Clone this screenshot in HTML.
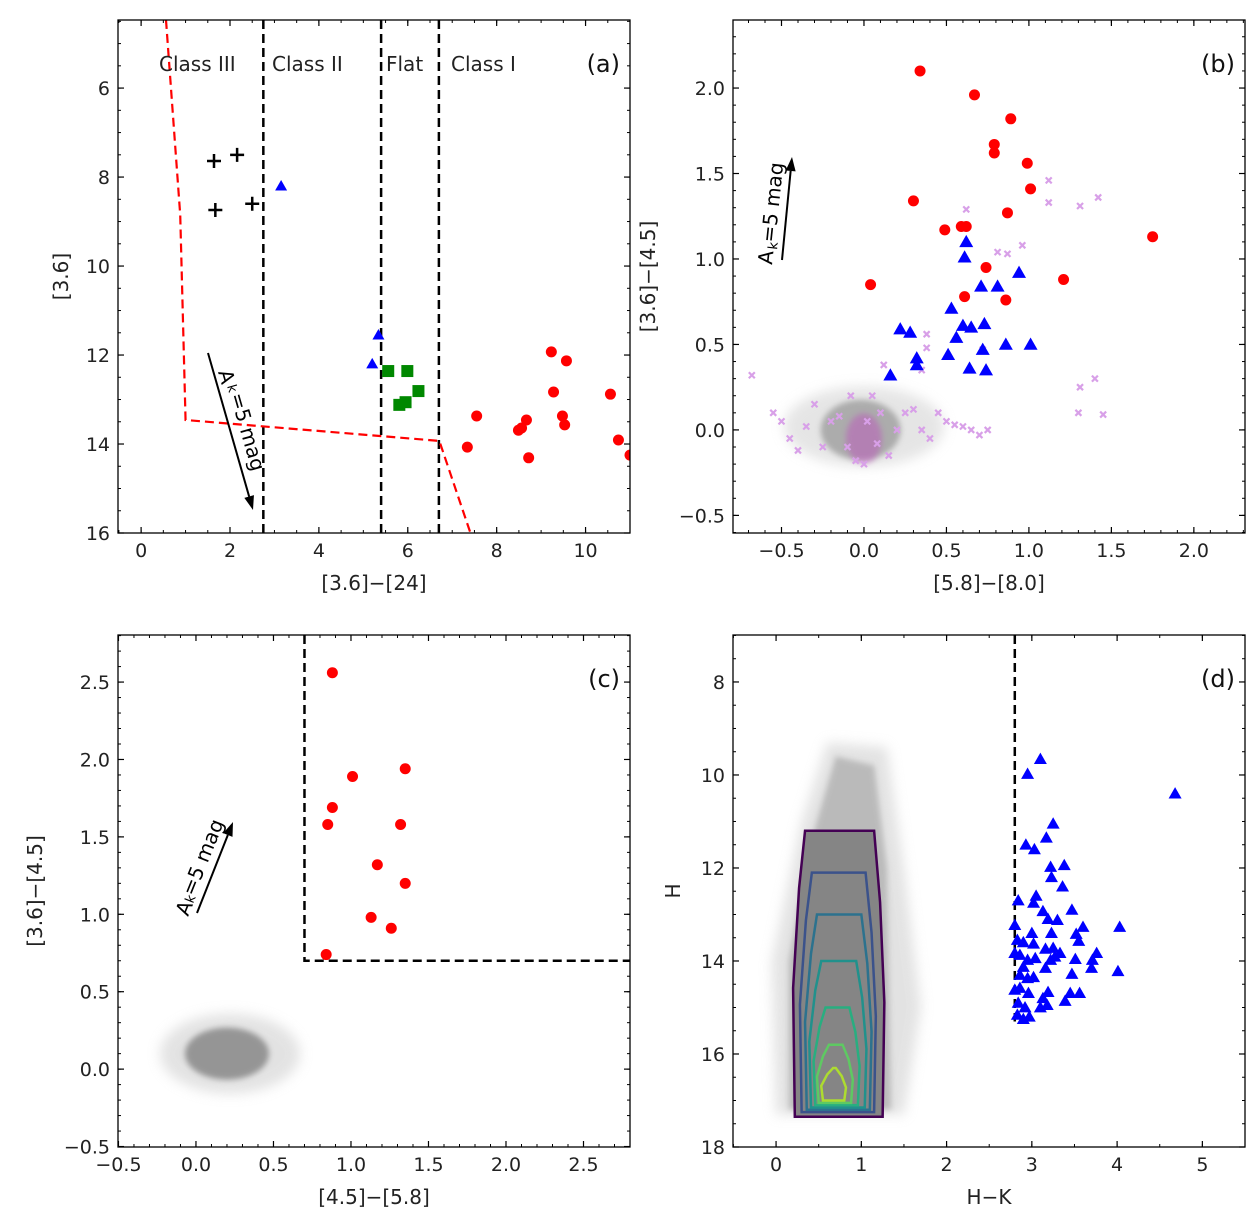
<!DOCTYPE html>
<html><head><meta charset="utf-8"><style>
html,body{margin:0;padding:0;background:#fff;}
svg{display:block;font-family:"DejaVu Sans","Liberation Sans",sans-serif;}
</style></head><body>
<svg id="fig" width="1258" height="1225" viewBox="0 0 1258 1225" xmlns="http://www.w3.org/2000/svg">
<defs>
<filter id="blur6" x="-50%" y="-50%" width="200%" height="200%"><feGaussianBlur stdDeviation="6"/></filter>
<filter id="blur10" x="-50%" y="-50%" width="200%" height="200%"><feGaussianBlur stdDeviation="10"/></filter>
<filter id="blur3" x="-50%" y="-50%" width="200%" height="200%"><feGaussianBlur stdDeviation="3"/></filter>
</defs>
</svg>
<script>
// ---------- data: panel (a) ----------
const aClassIIIx=[1.64,2.16,1.67,2.5];
const aClassIIIy=[7.64,7.5,8.74,8.6];
const aClassIIx=[3.15,5.34,5.2];
const aClassIIy=[8.2,11.55,12.2];
const aFlatX=[5.56,5.99,6.24,5.95,5.81];
const aFlatY=[12.36,12.36,12.81,13.06,13.12];
const aClassIx=[9.23,9.57,9.28,7.55,9.48,8.67,9.53,8.49,8.56,10.56,7.34,8.72,10.74,11.0];
const aClassIy=[11.93,12.13,12.83,13.37,13.37,13.46,13.57,13.69,13.64,12.88,14.07,14.31,13.91,14.25];
const aBoundX=[0.56,0.88,1.0,6.71,7.41];
const aBoundY=[4.47,8.85,13.46,13.93,16.0];
const aClassLines=[2.75,5.4,6.7];
const aXTicks=[0,2,4,6,8,10];
const aYTicks=[6,8,10,12,14,16];
// ---------- data: panel (b) ----------
const bRedX=[0.34,0.67,0.89,0.79,0.79,0.99,1.01,0.30,0.87,0.49,0.59,0.62,0.74,1.75,1.21,0.04,0.61,0.86];
const bRedY=[2.10,1.96,1.82,1.67,1.62,1.56,1.41,1.34,1.27,1.17,1.19,1.19,0.95,1.13,0.88,0.85,0.78,0.76];
const bBlueX=[0.62,0.61,0.94,0.71,0.81,0.53,0.22,0.28,0.60,0.65,0.73,0.56,0.86,1.01,0.72,0.32,0.32,0.51,0.64,0.74,0.16];
const bBlueY=[1.10,1.01,0.92,0.84,0.84,0.71,0.59,0.57,0.61,0.60,0.62,0.54,0.50,0.50,0.47,0.42,0.38,0.44,0.36,0.35,0.32];
const bPinkX=[1.12,1.12,1.31,1.42,0.62,0.81,0.87,0.96,0.38,0.38,0.72,0.35,1.4,1.31,1.3,-0.68,-0.55,-0.45,-0.3,-0.2,-0.1,0.05,0.15,0.25,0.3,0.4,0.5,0.55,0.6,0.7,0.75,-0.4,-0.35,-0.15,0.0,0.1,0.2,-0.05,0.02,0.08,-0.25,0.45,0.65,1.45,-0.5,0.35,0.12,-0.08];
const bPinkY=[1.46,1.33,1.31,1.36,1.29,1.04,1.03,1.08,0.56,0.48,0.47,0.0,0.3,0.25,0.1,0.32,0.1,-0.05,0.15,0.05,-0.1,0.2,-0.15,0.1,0.12,-0.05,0.05,0.03,0.02,-0.03,0.0,-0.12,0.02,0.08,-0.2,0.1,0.0,-0.18,0.05,-0.08,-0.1,0.1,0.0,0.09,0.05,0.35,0.38,0.2];
const bXTicks=[-0.5,0.0,0.5,1.0,1.5,2.0];
const bYTicks=[-0.5,0.0,0.5,1.0,1.5,2.0];
// ---------- data: panel (c) ----------
const cRedX=[0.88,1.01,1.35,0.88,0.85,1.32,1.17,1.35,1.13,1.26,0.84];
const cRedY=[2.56,1.89,1.94,1.69,1.58,1.58,1.32,1.20,0.98,0.91,0.74];
const cCut=[0.7,0.7];
const cXTicks=[-0.5,0.0,0.5,1.0,1.5,2.0,2.5];
const cYTicks=[-0.5,0.0,0.5,1.0,1.5,2.0,2.5];
// ---------- data: panel (d) ----------
const dBlueX=[3.10,2.95,4.68,3.25,3.17,2.93,3.03,3.22,3.38,3.23,3.36,2.84,3.05,3.02,3.13,3.47,3.19,3.30,3.60,4.03,2.80,3.00,3.23,3.52,3.55,2.83,2.90,3.02,3.16,3.25,3.33,2.80,2.86,3.04,2.95,3.22,3.27,3.51,3.71,3.76,3.16,2.90,3.70,4.01,2.86,3.02,2.95,3.47,2.80,2.86,2.96,3.19,3.13,3.45,3.56,3.39,3.10,3.18,2.84,2.92,2.83,2.90,2.97];
const dBlueY=[9.66,9.98,10.4,11.05,11.35,11.5,11.6,11.98,11.94,12.2,12.4,12.7,12.6,12.75,12.93,12.9,13.1,13.12,13.27,13.27,13.23,13.4,13.4,13.42,13.57,13.55,13.6,13.63,13.74,13.72,13.83,13.83,13.87,13.94,13.98,13.98,13.91,13.96,13.98,13.83,14.15,14.13,14.15,14.22,14.3,14.35,14.37,14.28,14.62,14.58,14.69,14.67,14.8,14.69,14.69,14.86,15.0,14.95,14.9,15.0,15.16,15.25,15.2];
const dCut=[2.8];
const dContourX0=[0.22,0.3,0.36,0.41,0.46,0.5,0.55];
const dContourX1=[1.25,1.15,1.1,1.04,0.96,0.88,0.8];
const dContourTop=[11.2,12.1,13.0,14.0,15.0,15.8,16.3];
const dContourBot=[17.35,17.25,17.2,17.15,17.1,17.05,17.0];
const dXTicks=[0,1,2,3,4,5];
const dYTicks=[8,10,12,14,16,18];

const svg=document.getElementById('fig');
const NS='http://www.w3.org/2000/svg';
function el(tag,attrs,parent){const e=document.createElementNS(NS,tag);for(const k in attrs)e.setAttribute(k,attrs[k]);(parent||svg).appendChild(e);return e;}
function txt(s,attrs,parent){const e=el('text',attrs,parent);e.textContent=s;return e;}
function scale(d0,d1,p0,p1){return v=>p0+(v-d0)*(p1-p0)/(d1-d0);}

function makePanel(name,box,xr,yr,xt,yt,fmt,xlabel,ylabel,letter,ylabX){
  const g=el('g',{});
  
  
  const X=scale(xr[0],xr[1],box.x0,box.x1), Y=scale(yr[0],yr[1],box.y1,box.y0);
  const clipId='clip-'+name;
  const cp=el('clipPath',{id:clipId},g);el('rect',{x:box.x0,y:box.y0,width:box.x1-box.x0,height:box.y1-box.y0},cp);
  const plot=el('g',{'clip-path':'url(#'+clipId+')'},g);
  const ax=el('g',{},g);
  xt.forEach(v=>{const px=X(v);
    el('line',{x1:px,x2:px,y1:box.y1,y2:box.y1-6,stroke:'#000','stroke-width':1.2},ax);
    el('line',{x1:px,x2:px,y1:box.y0,y2:box.y0+6,stroke:'#000','stroke-width':1.2},ax);
    const t=txt(fmt(v),{x:px,y:box.y1+24,'font-size':19,'text-anchor':'middle',fill:'#222'},ax);
    
    });
  yt.forEach(v=>{const py=Y(v);
    el('line',{x1:box.x0,x2:box.x0+6,y1:py,y2:py,stroke:'#000','stroke-width':1.2},ax);
    el('line',{x1:box.x1,x2:box.x1-6,y1:py,y2:py,stroke:'#000','stroke-width':1.2},ax);
    const t=txt(fmt(v),{x:box.x0-8,y:py+7,'font-size':19,'text-anchor':'end',fill:'#222'},ax);
    
    });
  el('rect',{x:box.x0,y:box.y0,width:box.x1-box.x0,height:box.y1-box.y0,fill:'none',stroke:'#000','stroke-width':1.3},ax);
  const xl=txt(xlabel,{x:(box.x0+box.x1)/2,y:box.y1+57,'font-size':20,'text-anchor':'middle',fill:'#222'},ax);
  
  
  const yc=(box.y0+box.y1)/2;
  const yl=txt(ylabel,{x:ylabX,y:yc,'font-size':20,'text-anchor':'middle',fill:'#222',transform:'rotate(-90 '+ylabX+' '+yc+')'},ax);
  
  
  const pl=txt(letter,{x:box.x1-10,y:box.y0+52,'font-size':24,'text-anchor':'end',fill:'#111'},ax);
  
  
  return {X,Y,plot,ax,g};
}
function minorTicks(P,box,xr,yr,xs,ys){
  for(let v=Math.ceil(xr[0]/xs)*xs;v<=xr[1];v+=xs){const px=P.X(v);
    el('line',{x1:px,x2:px,y1:box.y1,y2:box.y1-3,stroke:'#000','stroke-width':1},P.ax);
    el('line',{x1:px,x2:px,y1:box.y0,y2:box.y0+3,stroke:'#000','stroke-width':1},P.ax);}
  for(let v=Math.ceil(Math.min(...yr)/ys)*ys;v<=Math.max(...yr);v+=ys){const py=P.Y(v);
    el('line',{x1:box.x0,x2:box.x0+3,y1:py,y2:py,stroke:'#000','stroke-width':1},P.ax);
    el('line',{x1:box.x1,x2:box.x1-3,y1:py,y2:py,stroke:'#000','stroke-width':1},P.ax);}
}
function circle(P,x,y,name,r){const c=el('circle',{cx:P.X(x),cy:P.Y(y),r:r||5.5,fill:'#f00'},P.plot);
  
  }
function tri(P,x,y,name,s){s=s||7;const px=P.X(x),py=P.Y(y);
  const p=el('polygon',{points:`${px},${py-s} ${px-s},${py+s*0.75} ${px+s},${py+s*0.75}`,fill:'#00f'},P.plot);
  
  }
function arrow(P,x1,y1,x2,y2,label,name){
  const g=el('g',{},P.ax);
  
  
  const ang=Math.atan2(y2-y1,x2-x1);
  const hx=x2-14*Math.cos(ang),hy=y2-14*Math.sin(ang);
  el('line',{x1:x1,y1:y1,x2:hx,y2:hy,stroke:'#000','stroke-width':2},g);
  const nx=-Math.sin(ang)*5,ny=Math.cos(ang)*5;
  el('polygon',{points:`${x2},${y2} ${hx+nx},${hy+ny} ${hx-nx},${hy-ny}`,fill:'#000'},g);
  return g;
}
const f1=v=>String(v), f1d=v=>v.toFixed(1).replace('-','\u2212');

// ===== Panel (a) =====
const boxA={x0:118,x1:630,y0:20,y1:533};
const xrA=[-0.52,11.0], yrA=[16.0,4.47];
const A=makePanel('panel-a',boxA,xrA,yrA,aXTicks,aYTicks,f1,'[3.6]\u2212[24]','[3.6]','(a)',68);
minorTicks(A,boxA,xrA,yrA,0.5,0.5);
aClassLines.forEach(v=>{const l=el('line',{x1:A.X(v),x2:A.X(v),y1:boxA.y0,y2:boxA.y1,stroke:'#000','stroke-width':2.5,'stroke-dasharray':'9,5'},A.plot);
  
  });
{const pts=aBoundX.map((x,i)=>A.X(x)+','+A.Y(aBoundY[i])).join(' ');
 const l=el('polyline',{points:pts,fill:'none',stroke:'#f00','stroke-width':2.2,'stroke-dasharray':'9,5'},A.plot);
 
 }
[['Class III',159],['Class II',272],['Flat',386],['Class I',451]].forEach(([s,x])=>{const t=txt(s,{x:x,y:71,'font-size':20,fill:'#222'},A.ax);
  
  });
aClassIIIx.forEach((x,i)=>{const px=A.X(x),py=A.Y(aClassIIIy[i]);
  const p=el('path',{d:`M${px-7},${py}H${px+7}M${px},${py-7}V${py+7}`,stroke:'#000','stroke-width':2.5},A.plot);
  
  });
aClassIIx.forEach((x,i)=>tri(A,x,aClassIIy[i],'class-ii-point',6));
aFlatX.forEach((x,i)=>{const px=A.X(x),py=A.Y(aFlatY[i]);
  const r=el('rect',{x:px-6,y:py-6,width:12,height:12,fill:'#080'},A.plot);
  
  });
aClassIx.forEach((x,i)=>circle(A,x,aClassIy[i],'class-i-point'));
{const g=arrow(A,208,353,253,510,'','reddening-vector');
 txt('A',{x:0,y:0,'font-size':20,transform:'translate(218,372) rotate(74)'},g);
 txt('k',{x:0,y:0,'font-size':13,transform:'translate(227,386) rotate(74)'},g);
 txt('=5 mag',{x:0,y:0,'font-size':20,transform:'translate(230,395) rotate(74)'},g);}

// ===== Panel (b) =====
const boxB={x0:733,x1:1245,y0:20,y1:533};
const xrB=[-0.794,2.31], yrB=[-0.603,2.398];
const B=makePanel('panel-b',boxB,xrB,yrB,bXTicks,bYTicks,f1d,'[5.8]\u2212[8.0]','[3.6]\u2212[4.5]','(b)',655);
minorTicks(B,boxB,xrB,yrB,0.1,0.1);
{const c=el('g',{},B.plot);
 el('ellipse',{cx:B.X(0.0),cy:B.Y(0.02),rx:80,ry:40,fill:'#ccc',opacity:0.5,filter:'url(#blur6)'},c);
 el('ellipse',{cx:B.X(-0.02),cy:B.Y(0.0),rx:40,ry:30,fill:'#999',opacity:0.75,filter:'url(#blur3)'},c);
 el('ellipse',{cx:B.X(0.0),cy:B.Y(-0.05),rx:18,ry:25,fill:'#b5b',opacity:0.5,filter:'url(#blur3)'},c);}
bPinkX.forEach((x,i)=>{const px=B.X(x),py=B.Y(bPinkY[i]);
  const p=el('path',{d:`M${px-3},${py-3}L${px+3},${py+3}M${px-3},${py+3}L${px+3},${py-3}`,stroke:'#d8a0e8','stroke-width':2.2},B.plot);
  
  });
bBlueX.forEach((x,i)=>tri(B,x,bBlueY[i],'class-ii-point'));
bRedX.forEach((x,i)=>circle(B,x,bRedY[i],'class-i-point'));
{const g=arrow(B,782,260,792,157,'','reddening-vector');
 txt('A',{x:0,y:0,'font-size':20,transform:'translate(772,265) rotate(-84)'},g);
 txt('k',{x:0,y:0,'font-size':13,transform:'translate(777,250) rotate(-84)'},g);
 txt('=5 mag',{x:0,y:0,'font-size':20,transform:'translate(775,243) rotate(-84)'},g);}

// ===== Panel (c) =====
const boxC={x0:118,x1:630,y0:635,y1:1147};
const xrC=[-0.503,2.8], yrC=[-0.503,2.804];
const C=makePanel('panel-c',boxC,xrC,yrC,cXTicks,cYTicks,f1d,'[4.5]\u2212[5.8]','[3.6]\u2212[4.5]','(c)',42);
minorTicks(C,boxC,xrC,yrC,0.1,0.1);
{const c=el('g',{},C.plot);
 el('ellipse',{cx:C.X(0.22),cy:C.Y(0.1),rx:70,ry:40,fill:'#ccc',opacity:0.55,filter:'url(#blur6)'},c);
 el('ellipse',{cx:C.X(0.2),cy:C.Y(0.1),rx:42,ry:26,fill:'#888',opacity:0.85,filter:'url(#blur3)'},c);}
{const l=el('polyline',{points:`${C.X(cCut[0])},${boxC.y0} ${C.X(cCut[0])},${C.Y(cCut[1])} ${boxC.x1},${C.Y(cCut[1])}`,fill:'none',stroke:'#000','stroke-width':2.5,'stroke-dasharray':'9,5'},C.plot);
 
 }
cRedX.forEach((x,i)=>circle(C,x,cRedY[i],'class-i-point'));
{const g=arrow(C,197,913,233,822,'','reddening-vector');
 txt('A',{x:0,y:0,'font-size':20,transform:'translate(188,917) rotate(-68)'},g);
 txt('k',{x:0,y:0,'font-size':13,transform:'translate(193,904) rotate(-68)'},g);
 txt('=5 mag',{x:0,y:0,'font-size':20,transform:'translate(194,897) rotate(-68)'},g);}

// ===== Panel (d) =====
const boxD={x0:733,x1:1245,y0:635,y1:1147};
const xrD=[-0.505,5.5], yrD=[18.0,6.99];
const D=makePanel('panel-d',boxD,xrD,yrD,dXTicks,dYTicks,f1,'H\u2212K','H','(d)',680);
minorTicks(D,boxD,xrD,yrD,0.5,0.5);
{const c=el('g',{},D.plot);
 el('path',{d:`M${D.X(0.0)},${D.Y(17.3)} L${D.X(-0.05)},${D.Y(14)} L${D.X(0.3)},${D.Y(11)} L${D.X(0.6)},${D.Y(9.3)} L${D.X(1.3)},${D.Y(9.4)} L${D.X(1.5)},${D.Y(12)} L${D.X(1.7)},${D.Y(15)} L${D.X(1.5)},${D.Y(17.3)} Z`,fill:'#ccc',opacity:0.55,filter:'url(#blur6)'},c);
 el('path',{d:`M${D.X(0.15)},${D.Y(17.2)} L${D.X(0.15)},${D.Y(14)} L${D.X(0.4)},${D.Y(11.5)} L${D.X(0.7)},${D.Y(9.6)} L${D.X(1.15)},${D.Y(9.8)} L${D.X(1.3)},${D.Y(12)} L${D.X(1.35)},${D.Y(17.2)} Z`,fill:'#aaa',opacity:0.7,filter:'url(#blur3)'},c);
 const cols=['#440154','#3b528b','#2c728e','#21918c','#28ae80','#5ec962','#addc30'];
 dContourX0.forEach((x0,k)=>{
   const x1=dContourX1[k],top=dContourTop[k],bot=dContourBot[k],h=bot-top;
   const d=`M${D.X(x0)},${D.Y(bot)} L${D.X(x0-0.02)},${D.Y(top+h*0.55)} L${D.X(x0+0.05)},${D.Y(top+h*0.2)} L${D.X(x0+0.12)},${D.Y(top)} L${D.X(x1-0.1)},${D.Y(top)} L${D.X(x1-0.03)},${D.Y(top+h*0.25)} L${D.X(x1+0.02)},${D.Y(top+h*0.6)} L${D.X(x1)},${D.Y(bot)} Z`;
   const p=el('path',{d:d,fill:k==0?'#858585':'none',stroke:cols[k],'stroke-width':2.5},c);
   
   });
}
{const l=el('line',{x1:D.X(dCut[0]),x2:D.X(dCut[0]),y1:boxD.y0,y2:D.Y(15.3),stroke:'#000','stroke-width':2.5,'stroke-dasharray':'9,5'},D.plot);
 
 }
dBlueX.forEach((x,i)=>tri(D,x,dBlueY[i],'nir-excess-point',6.5));
</script>
</body></html>
